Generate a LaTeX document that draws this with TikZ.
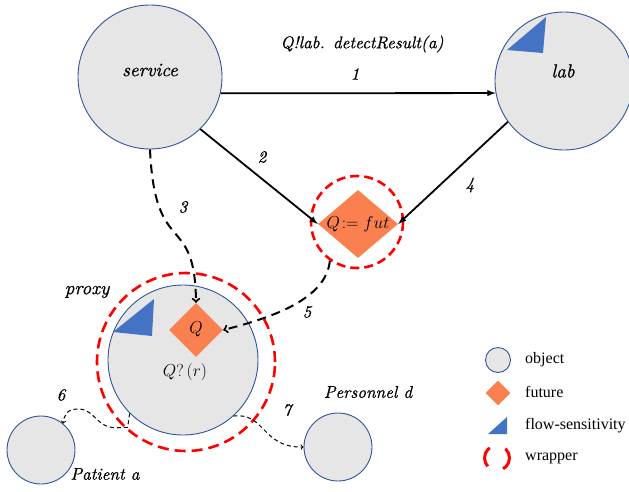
\documentclass[tikz,border=0pt]{standalone}
\usepackage{fontspec}
\setmainfont{Liberation Serif}
\newfontfamily\itlabel{lmroman10-italic.otf}[FakeBold=0.7]
\usetikzlibrary{shapes.geometric}
\definecolor{objgray}{RGB}{230,230,230}
\definecolor{objblue}{RGB}{47,85,151}
\definecolor{futorange}{RGB}{250,128,80}
\definecolor{flowblue}{RGB}{68,114,196}
\tikzset{obj/.style = {draw=objblue, fill=objgray, circle, line width=0.9pt, inner sep=0pt},
         fut/.style = {diamond, fill=futorange, inner sep=0pt},
         wrap/.style = {draw=red, circle, line width=2.6pt, inner sep=0pt, dash pattern=on 11pt off 6pt},
         msg/.style = {-latex, line width=1.8pt},
         async/.style = {->, line width=2pt, dash pattern=on 9pt off 6pt},
         spawn/.style = {->, line width=1pt, dash pattern=on 4pt off 3pt},
         lbl/.style = {font=\fontsize{17}{19}\selectfont\itlabel, inner sep=0pt},
         objname/.style = {font=\fontsize{19}{21}\selectfont\itlabel, inner sep=0pt},
         key/.style = {font=\fontsize{16}{18}\selectfont, anchor=west, inner sep=0pt}}

\begin{document}
\begin{tikzpicture}[x=1pt,y=-1pt]
    \useasboundingbox (0,0) rectangle (629,491);

    \node[obj, minimum size=144pt](service)at(150,77){};
    \node[objname](servicetxt)at(150,70){service};
    \node[obj, minimum size=138pt](lab)at(564,81){};
    \fill[flowblue](507,50)--(546,17)--(543,53)--cycle;
    \node[objname](labtxt)at(563,71){lab};

    \node[wrap, minimum size=92pt, dash pattern=on 9pt off 5pt](futwrap)at(357,222){};
    \node[fut, minimum width=80pt, minimum height=68pt](fut)at(358,224){};
    \node[font=\fontsize{17}{19}\selectfont](futtxt)at(358,224){$Q\!:=fut$};

    \node[obj, minimum size=150pt](proxy)at(183,360){};
    \node[wrap, minimum size=178pt](proxywrap)at(186,362){};
    \fill[flowblue](113,332)--(154,299)--(152,336)--cycle;
    \node[fut, minimum size=54pt](qp)at(196,330){};
    \node[font=\fontsize{19}{21}\selectfont](qptxt)at(196,329){$Q$};
    \node[font=\fontsize{19}{21}\selectfont](recv)at(185,372){$Q?\,(r)$};
    \node[objname](proxytxt)at(87,292){proxy};

    \node[obj, minimum size=68pt](patient)at(41,450){};
    \node[lbl](patienttxt)at(105,474){Patient a};
    \node[obj, minimum size=68pt](personnel)at(338,447){};
    \node[lbl](personneltxt)at(368,392){Personnel d};

    \draw[msg](service.-13)--(lab.190);
    \node[lbl](call)at(362,44){Q!lab. detectResult(a)};
    \node[lbl](n1)at(355,74){1};
    \draw[msg](service.-46)--(fut.west);
    \node[lbl](n2)at(262,157){2};
    \draw[async](service.south) .. controls (155,260) and (195,210) .. (qp.north);
    \node[lbl](n3)at(183,207){3};
    \draw[msg](lab.216)--(fut.east);
    \node[lbl](n4)at(470,185){4};
    \draw[async](futwrap.235) .. controls (326,300) and (270,318) .. (qp.east);
    \node[lbl](n5)at(307,312){5};
    \draw[spawn](proxy.225)--++(-2,14)--++(-5,0) .. controls (95,431) and (97,409) .. (78,409) .. controls (66,409) and (64,416) .. (patient.50);
    \node[lbl](n6)at(61,395){6};
    \draw[spawn](proxy.-48) .. controls (265,412) and (262,448) .. (personnel.west);
    \node[lbl](n7)at(287,410){7};

    \node[obj, minimum size=25pt](keyobj)at(498,360){};
    \node[key](keyobjtxt)at(525,360){object};
    \node[fut, minimum size=25pt](keyfut)at(498,393){};
    \node[key](keyfuttxt)at(525,392){future};
    \fill[flowblue](488,434)--(507,417)--(507,434)--cycle;
    \node[key](keyflowtxt)at(525,426){flow-sensitivity};
    \node[wrap, minimum size=25pt, line width=3pt, dash pattern=on 20.9pt off 16.8pt, dash phase=10.5pt](keywrap)at(497,458){};
    \node[key](keywraptxt)at(525,458){wrapper};
\end{tikzpicture}
\end{document}
